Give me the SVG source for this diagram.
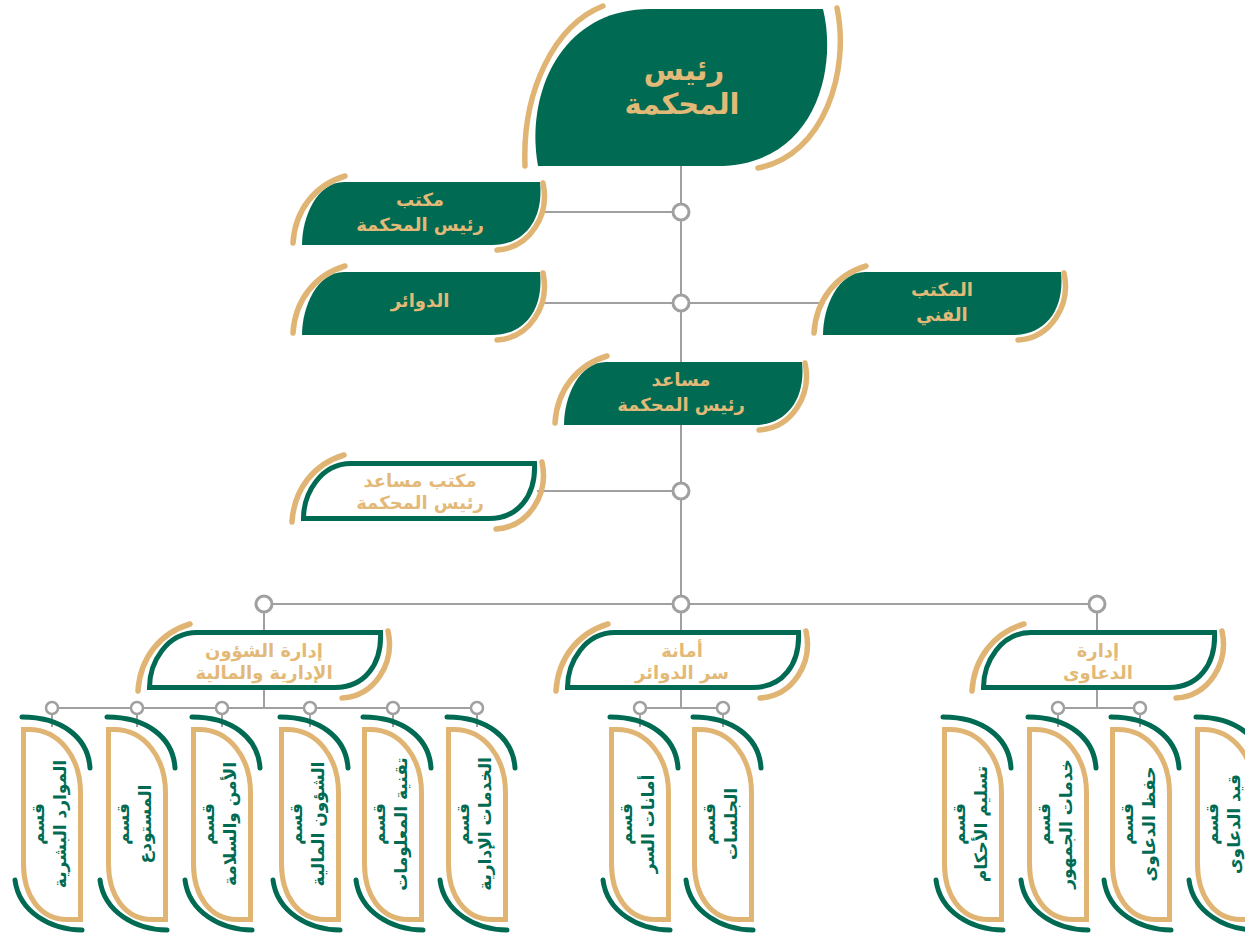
<svg xmlns="http://www.w3.org/2000/svg" width="1245" height="935" viewBox="0 0 1245 935">
<style>
.gf{fill:#006b52}
.garc{fill:none;stroke:#e0b473;stroke-width:5.5;stroke-linecap:round}
.grarc{fill:none;stroke:#006b52;stroke-width:5;stroke-linecap:round}
.outl{fill:#fff;stroke:#006b52;stroke-width:5}
.vsh{fill:#fff;stroke:#e0b473;stroke-width:5}
.ln{stroke:#a0a0a0;stroke-width:2;fill:none}
.dot{fill:#fff;stroke:#a0a0a0;stroke-width:3}
.sdot{fill:#fff;stroke:#a0a0a0;stroke-width:2.5}
text{font-family:"DejaVu Sans","Noto Sans",sans-serif;font-weight:bold;text-anchor:middle}
.tg{fill:#e3b978;font-size:18px}
.tg2{fill:#e3b978;font-size:18px}
.tv{fill:#006b52;font-size:17px}
</style>
<defs>
<path id="hfill" class="gf" d="M0,63 C0,35 15,0 42,0 L238,0 C242,38 222,63 190,63 Z"/>
<path id="harcs" class="garc" d="M43,-6 C13,3 -7,28 -9,61 M241,1 C248,33 228,66 195,68"/>
<path id="hout" class="outl" d="M2.5,57.5 C2.5,32 20,2.5 50,2.5 L233.5,2.5 C235,35 217,57.5 188,57.5 Z"/>
<path id="vsh" class="vsh" d="M2.5,2.5 L8,2.5 C38,2.5 59.5,30 59.5,66 L59.5,192.5 L46,192.5 C18,192.5 2.5,167 2.5,137 Z"/>
<path id="varcs" class="grarc" d="M1,-10 C40,-10 67,10 69,41 M-6,153 C-2,185 30,203 61,203"/>
</defs>

<g id="connectors">
<line class="ln" x1="681" y1="166" x2="681" y2="630"/>
<line class="ln" x1="540" y1="212" x2="681" y2="212"/>
<line class="ln" x1="540" y1="303" x2="823" y2="303"/>
<line class="ln" x1="537" y1="491" x2="681" y2="491"/>
<line class="ln" x1="264" y1="604" x2="1097" y2="604"/>
<line class="ln" x1="264" y1="604" x2="264" y2="630"/>
<line class="ln" x1="1097" y1="604" x2="1097" y2="630"/>
<line class="ln" x1="264" y1="690" x2="264" y2="708"/>
<line class="ln" x1="52" y1="708" x2="477" y2="708"/>
<line class="ln" x1="681" y1="690" x2="681" y2="708"/>
<line class="ln" x1="640" y1="708" x2="723" y2="708"/>
<line class="ln" x1="1097" y1="690" x2="1097" y2="708"/>
<line class="ln" x1="1058" y1="708" x2="1140" y2="708"/>
<path class="ln" d="M52,708 V727 M137,708 V727 M222,708 V727 M310,708 V727 M393,708 V727 M477,708 V727 M640,708 V727 M723,708 V727 M1058,708 V727 M1140,708 V727"/>
<circle class="dot" cx="681" cy="212" r="8"/>
<circle class="dot" cx="681" cy="303" r="8"/>
<circle class="dot" cx="681" cy="491" r="8"/>
<circle class="dot" cx="681" cy="604" r="8"/>
<circle class="dot" cx="264" cy="604" r="8"/>
<circle class="dot" cx="1097" cy="604" r="8"/>
<circle class="sdot" cx="52" cy="708" r="6"/>
<circle class="sdot" cx="137" cy="708" r="6"/>
<circle class="sdot" cx="222" cy="708" r="6"/>
<circle class="sdot" cx="310" cy="708" r="6"/>
<circle class="sdot" cx="393" cy="708" r="6"/>
<circle class="sdot" cx="477" cy="708" r="6"/>
<circle class="sdot" cx="640" cy="708" r="6"/>
<circle class="sdot" cx="723" cy="708" r="6"/>
<circle class="sdot" cx="1058" cy="708" r="6"/>
<circle class="sdot" cx="1140" cy="708" r="6"/>
</g>

<g id="n-president">
<path class="gf" d="M538,166 C525,95 560,9 650,9 L823,9 C838,70 815,166 717,166 Z"/>
<path class="garc" d="M603,6 C555,25 522,90 525,166 M837,8 C850,70 825,155 758,168"/>
<text x="684" y="80" style="fill:#e3b978;font-size:29px">رئيس</text>
<text x="682" y="114" style="fill:#e3b978;font-size:29px">المحكمة</text>
</g>

<g id="n-office-president" transform="translate(302,182)">
<use href="#hfill"/><use href="#harcs"/>
<text class="tg" x="118" y="24">مكتب</text>
<text class="tg" x="118" y="49">رئيس المحكمة</text>
</g>

<g id="n-circuits" transform="translate(302,272)">
<use href="#hfill"/><use href="#harcs"/>
<text class="tg" x="118" y="35">الدوائر</text>
</g>

<g id="n-technical" transform="translate(823,272)">
<use href="#hfill"/><use href="#harcs"/>
<text class="tg" x="119" y="24">المكتب</text>
<text class="tg" x="119" y="49">الفني</text>
</g>

<g id="n-assistant" transform="translate(564,362)">
<use href="#hfill"/><use href="#harcs"/>
<text class="tg" x="117" y="24">مساعد</text>
<text class="tg" x="117" y="49">رئيس المحكمة</text>
</g>

<g id="n-office-assistant" transform="translate(301,461)">
<use href="#hout"/><use href="#harcs"/>
<text class="tg2" x="119" y="26">مكتب مساعد</text>
<text class="tg2" x="119" y="48">رئيس المحكمة</text>
</g>

<g id="n-admin-fin" transform="translate(147,630)">
<use href="#hout"/><use href="#harcs"/>
<text class="tg2" x="117" y="27">إدارة الشؤون</text>
<text class="tg2" x="117" y="49">الإدارية والمالية</text>
</g>

<g id="n-secretariat" transform="translate(565,630)">
<use href="#hout"/><use href="#harcs"/>
<text class="tg2" x="117" y="27">أمانة</text>
<text class="tg2" x="117" y="49">سر الدوائر</text>
</g>

<g id="n-cases" transform="translate(981,630)">
<use href="#hout"/><use href="#harcs"/>
<text class="tg2" x="117" y="27">إدارة</text>
<text class="tg2" x="117" y="49">الدعاوى</text>
</g>

<g id="n-hr" transform="translate(21,727)">
<use href="#vsh"/><use href="#varcs"/>
<g transform="translate(30,97) rotate(-90)"><text class="tv" x="0" y="-7">قسم</text><text class="tv" x="0" y="15">الموارد البشرية</text></g>
</g>
<g id="n-warehouse" transform="translate(106,727)">
<use href="#vsh"/><use href="#varcs"/>
<g transform="translate(30,97) rotate(-90)"><text class="tv" x="0" y="-7">قسم</text><text class="tv" x="0" y="15">المستودع</text></g>
</g>
<g id="n-security" transform="translate(191,727)">
<use href="#vsh"/><use href="#varcs"/>
<g transform="translate(30,97) rotate(-90)"><text class="tv" x="0" y="-7">قسم</text><text class="tv" x="0" y="15">الأمن والسلامة</text></g>
</g>
<g id="n-finance" transform="translate(279,727)">
<use href="#vsh"/><use href="#varcs"/>
<g transform="translate(30,97) rotate(-90)"><text class="tv" x="0" y="-7">قسم</text><text class="tv" x="0" y="15">الشؤون المالية</text></g>
</g>
<g id="n-it" transform="translate(362,727)">
<use href="#vsh"/><use href="#varcs"/>
<g transform="translate(30,97) rotate(-90)"><text class="tv" x="0" y="-7">قسم</text><text class="tv" x="0" y="15">تقنية المعلومات</text></g>
</g>
<g id="n-admin-services" transform="translate(446,727)">
<use href="#vsh"/><use href="#varcs"/>
<g transform="translate(30,97) rotate(-90)"><text class="tv" x="0" y="-7">قسم</text><text class="tv" x="0" y="15">الخدمات الإدارية</text></g>
</g>
<g id="n-secret-trusts" transform="translate(609,727)">
<use href="#vsh"/><use href="#varcs"/>
<g transform="translate(30,97) rotate(-90)"><text class="tv" x="0" y="-7">قسم</text><text class="tv" x="0" y="15">أمانات السر</text></g>
</g>
<g id="n-sessions" transform="translate(692,727)">
<use href="#vsh"/><use href="#varcs"/>
<g transform="translate(30,97) rotate(-90)"><text class="tv" x="0" y="-7">قسم</text><text class="tv" x="0" y="15">الجلسات</text></g>
</g>
<g id="n-judgments" transform="translate(942,727)">
<use href="#vsh"/><use href="#varcs"/>
<g transform="translate(30,97) rotate(-90)"><text class="tv" x="0" y="-7">قسم</text><text class="tv" x="0" y="15">تسليم الأحكام</text></g>
</g>
<g id="n-public" transform="translate(1027,727)">
<use href="#vsh"/><use href="#varcs"/>
<g transform="translate(30,97) rotate(-90)"><text class="tv" x="0" y="-7">قسم</text><text class="tv" x="0" y="15">خدمات الجمهور</text></g>
</g>
<g id="n-archive" transform="translate(1110,727)">
<use href="#vsh"/><use href="#varcs"/>
<g transform="translate(30,97) rotate(-90)"><text class="tv" x="0" y="-7">قسم</text><text class="tv" x="0" y="15">حفظ الدعاوى</text></g>
</g>
<g id="n-registry" transform="translate(1195,727)">
<use href="#vsh"/><use href="#varcs"/>
<g transform="translate(30,97) rotate(-90)"><text class="tv" x="0" y="-7">قسم</text><text class="tv" x="0" y="15">قيد الدعاوى</text></g>
</g>
</svg>
